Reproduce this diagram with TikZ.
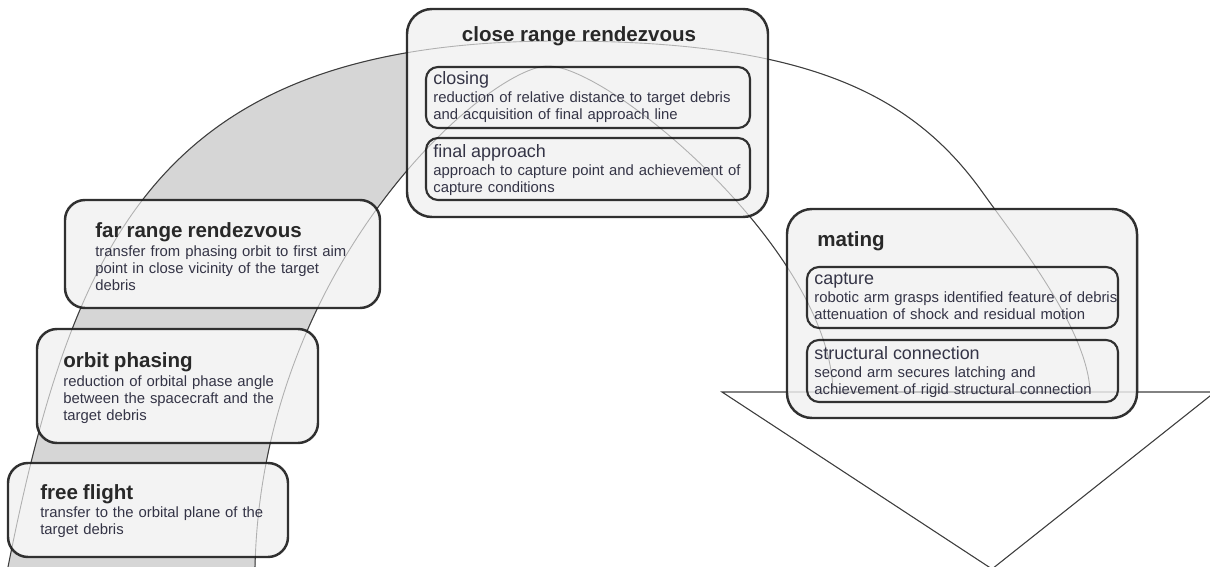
\documentclass[tikz,border=0pt]{standalone}
\usepackage{fontspec}
\setmainfont{Liberation Sans}
\usepackage{xcolor}
\definecolor{bandgrey}{RGB}{214,214,214}
\definecolor{boxfill}{RGB}{243,243,243}
\definecolor{boxline}{RGB}{48,48,48}
\definecolor{arcink}{RGB}{85,85,85}
\definecolor{arcfaint}{RGB}{185,185,185}
\definecolor{headink}{RGB}{40,40,40}
\definecolor{bodyink}{RGB}{52,52,70}
\newcommand\headfont{\fontsize{11.7pt}{14pt}\selectfont\bfseries}
\newcommand\subfont{\fontsize{10.2pt}{12pt}\selectfont}
\newcommand\bodyfont{\fontsize{8.45pt}{9.6pt}\selectfont}
\def\bandpath{(0.54,-58.0) -- (0.8,-56.7) .. controls (7.5,-23.0) and (16.5,-4.1) .. (56.0,-4.1)
  .. controls (80.0,-4.1) and (91.0,-9.0) .. (98.3,-19.3) .. controls (101.8,-24.2) and (108.8,-33.0) .. (109.0,-39.2)
  -- (83.3,-39.2) .. controls (83.0,-25.0) and (61.0,-6.6) .. (54.8,-6.6)
  .. controls (49.0,-6.6) and (26.2,-26.0) .. (25.5,-56.7) -- (25.4,-58.0) -- cycle}
\def\arrowhead{(72.2,-39.2) -- (121.5,-39.2) -- (99.2,-56.9) -- cycle}
\begin{document}
\begin{tikzpicture}[scale=0.2,
    stagebox/.style={draw=boxline, line width=1.4pt, fill=boxfill, rounded corners=0.4cm},
    groupbox/.style={stagebox, rounded corners=0.5cm},
    stepbox/.style={draw=boxline, line width=1.2pt, fill=boxfill, rounded corners=0.24cm},
    stagetext/.style={anchor=base west, text width=6.6cm, align=left, font=\bodyfont, text=bodyink},
    headtext/.style={font=\headfont, text=headink},
    bandline/.style={draw=arcink, line width=0.6pt}]
		\tikzstyle{every node}+=[inner sep=0pt]
		\useasboundingbox (0,0) rectangle (121,-56.7);
		\begin{scope}
			\clip (0,0) rectangle (58,-56.7);
			\fill [bandgrey] \bandpath;
		\end{scope}
		\draw [bandline] \bandpath;
		\draw [bandline] \arrowhead;
		\node [stagebox, minimum width=5.6cm, minimum height=1.88cm] (freebox) at (14.8,-51.0) {};
		\node [stagebox, minimum width=5.62cm, minimum height=2.28cm] (phasebox) at (17.75,-38.6) {};
		\node [stagebox, minimum width=6.3cm, minimum height=2.16cm] (farbox) at (22.25,-25.4) {};
		\node [groupbox, minimum width=7.22cm, minimum height=4.16cm] (closebox) at (58.75,-11.3) {};
		\node [stepbox, minimum width=6.48cm, minimum height=1.22cm] (closingbox) at (58.8,-9.75) {};
		\node [stepbox, minimum width=6.48cm, minimum height=1.24cm] (finalbox) at (58.8,-16.9) {};
		\node [groupbox, minimum width=7.0cm, minimum height=4.18cm] (matingbox) at (96.2,-31.35) {};
		\node [stepbox, minimum width=6.22cm, minimum height=1.22cm] (capturebox) at (96.25,-29.75) {};
		\node [stepbox, minimum width=6.22cm, minimum height=1.24cm] (connectbox) at (96.25,-37.1) {};
		\begin{scope}[blend mode=multiply]
			\draw [bandline, draw=arcfaint, line width=0.5pt] \bandpath;
			\draw [bandline, draw=arcfaint, line width=0.5pt] \arrowhead;
		\end{scope}
		\node [stagetext] (freetext) at (4.0,-49.9) {{\headfont\color{headink}free flight}\\[0.9pt]transfer to the orbital plane of the\\target debris};
		\node [stagetext] (phasetext) at (6.3,-36.8) {{\headfont\color{headink}orbit phasing}\\[0.9pt]reduction of orbital phase angle\\between the spacecraft and the\\target debris};
		\node [stagetext] (fartext) at (9.5,-23.8) {{\headfont\color{headink}far range rendezvous}\\[0.9pt]transfer from phasing orbit to first aim\\point in close vicinity of the target\\debris};
		\node [headtext, anchor=base] (closetext) at (57.9,-4.15) {close range rendezvous};
		\node [stagetext] (closingtext) at (43.3,-8.5) {{\subfont closing}\\[0.5pt]reduction of relative distance to target debris\\and acquisition of final approach line};
		\node [stagetext] (finaltext) at (43.3,-15.8) {{\subfont final approach}\\[0.5pt]approach to capture point and achievement of\\capture conditions};
		\node [headtext, anchor=base west] (matingtext) at (81.7,-24.7) {mating};
		\node [stagetext] (capturetext) at (81.4,-28.5) {{\subfont capture}\\[0.5pt]robotic arm grasps identified feature of debris\\attenuation of shock and residual motion};
		\node [stagetext] (connecttext) at (81.4,-36.0) {{\subfont structural connection}\\[0.5pt]second arm secures latching and\\achievement of rigid structural connection};
	\end{tikzpicture}
\end{document}
